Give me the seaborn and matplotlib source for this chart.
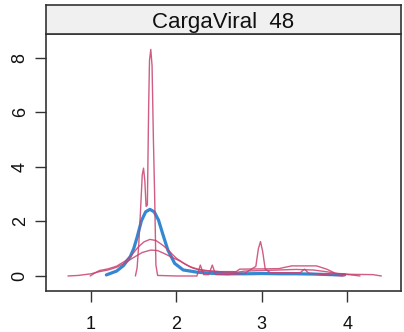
import matplotlib
matplotlib.use("Agg")
import matplotlib.pyplot as plt
import seaborn as sns

# ---- data ----
panel_title = "CargaViral  48"
x_ticks = [1, 2, 3, 4]
y_ticks = [0, 2, 4, 6, 8]

# observed density (blue)
obs_x = [1.18, 1.30, 1.38, 1.46, 1.50, 1.54, 1.59, 1.64, 1.69, 1.74, 1.79, 1.85,
         1.90, 1.98, 2.08, 2.24, 2.40, 2.60, 2.80, 3.00, 3.20, 3.40, 3.60, 3.80, 3.97]
obs_y = [0.04, 0.18, 0.38, 0.71, 1.00, 1.42, 2.02, 2.35, 2.44, 2.35, 2.05, 1.44,
         0.95, 0.46, 0.22, 0.14, 0.10, 0.08, 0.08, 0.09, 0.08, 0.08, 0.07, 0.05, 0.04]

# imputed densities (red)
imp1_x = [0.99, 1.05, 1.10, 1.20, 1.30, 1.40, 1.48, 1.55, 1.62, 1.69, 1.76, 1.83,
          1.89, 1.95, 2.00, 2.08, 2.16, 2.25, 2.40, 2.60, 2.72, 2.80, 3.00, 3.20,
          3.40, 3.60, 3.75, 3.90, 4.05, 4.15]
imp1_y = [0.00, 0.12, 0.20, 0.26, 0.36, 0.55, 0.78, 1.05, 1.25, 1.34, 1.30, 1.15,
          1.00, 0.80, 0.65, 0.48, 0.34, 0.25, 0.18, 0.14, 0.14, 0.18, 0.20, 0.22,
          0.24, 0.22, 0.16, 0.08, 0.04, 0.00]

imp2_x = [0.73, 0.85, 1.00, 1.10, 1.20, 1.30, 1.40, 1.50, 1.60, 1.70, 1.78, 1.86,
          1.95, 2.04, 2.12, 2.20, 2.30, 2.50, 2.70, 2.74, 3.00, 3.20, 3.35, 3.64,
          3.76, 3.86, 4.04, 4.30, 4.40]
imp2_y = [0.00, 0.02, 0.08, 0.16, 0.22, 0.32, 0.48, 0.68, 0.86, 0.95, 0.93, 0.82,
          0.68, 0.55, 0.40, 0.28, 0.20, 0.16, 0.16, 0.25, 0.26, 0.27, 0.37, 0.37,
          0.25, 0.10, 0.06, 0.05, 0.00]

imp3_x = [1.52, 1.54, 1.56, 1.58, 1.60, 1.615, 1.63, 1.645, 1.66, 1.675, 1.685,
          1.70, 1.715, 1.73, 1.745, 1.76, 1.78, 2.00, 2.24, 2.28, 2.32, 2.38, 2.42,
          2.46, 2.60, 2.80, 2.93, 2.96, 2.985, 3.01, 3.04, 3.10, 3.30, 3.45, 3.50,
          3.55, 3.70, 3.85, 3.95]
imp3_y = [0.00, 0.30, 1.20, 2.40, 3.70, 3.95, 3.50, 2.55, 2.60, 6.20, 7.90,
          8.30, 7.70, 5.10, 3.00, 0.40, 0.02, 0.00, 0.00, 0.40, 0.05, 0.05, 0.40,
          0.05, 0.05, 0.10, 0.35, 1.00, 1.26, 0.90, 0.25, 0.12, 0.12, 0.12, 0.25,
          0.10, 0.06, 0.02, 0.00]

# ---- styling ----
BLUE = "#3488D2"
RED = "#C8406E"
FRAME = "#333333"

sns.set_theme(style="white")
plt.rcParams['font.family'] = ['Liberation Sans', 'DejaVu Sans']

W, H = 404, 332
fig = plt.figure(figsize=(W / 100, H / 100), dpi=100)
fig.patch.set_facecolor("white")

ax = fig.add_axes([46 / W, 1 - 291 / H, (401 - 46) / W, (291 - 33.7) / H])

sns.lineplot(x=obs_x, y=obs_y, ax=ax, color=BLUE, lw=2.3, sort=False,
             estimator=None)
for xs, ys in [(imp1_x, imp1_y), (imp2_x, imp2_y), (imp3_x, imp3_y)]:
    sns.lineplot(x=xs, y=ys, ax=ax, color=RED, lw=1.0, alpha=0.85,
                 sort=False, estimator=None)

ax.set_xlim(0.473, 4.63)
ax.set_ylim(-0.55, 8.875)
ax.set_xticks(x_ticks)
ax.set_yticks(y_ticks)
ax.set_xticklabels([str(v) for v in x_ticks], fontsize=13)
ax.set_yticklabels([str(v) for v in y_ticks], fontsize=13, rotation=90,
                   va="center")
ax.tick_params(axis="both", which="both", direction="out", length=8,
               width=1.0, color=FRAME, labelcolor="#111111", bottom=True,
               left=True)
ax.tick_params(axis="x", pad=10)
ax.tick_params(axis="y", pad=4.5)
ax.set_xlabel("")
ax.set_ylabel("")
for s in ax.spines.values():
    s.set_visible(True)
    s.set_color(FRAME)
    s.set_linewidth(1.2)
ax.grid(False)

# strip
sax = fig.add_axes([46 / W, 1 - 33.7 / H, (401 - 46) / W, (33.7 - 5.3) / H])
sax.set_facecolor("#F0F0F0")
sax.set_xticks([])
sax.set_yticks([])
for s in sax.spines.values():
    s.set_visible(True)
    s.set_color(FRAME)
    s.set_linewidth(1.2)
sax.text(0.5, 0.2, panel_title, ha="center", va="baseline", fontsize=16,
         color="#111111", transform=sax.transAxes)

fig.savefig("out.png", dpi=100, facecolor="white")
